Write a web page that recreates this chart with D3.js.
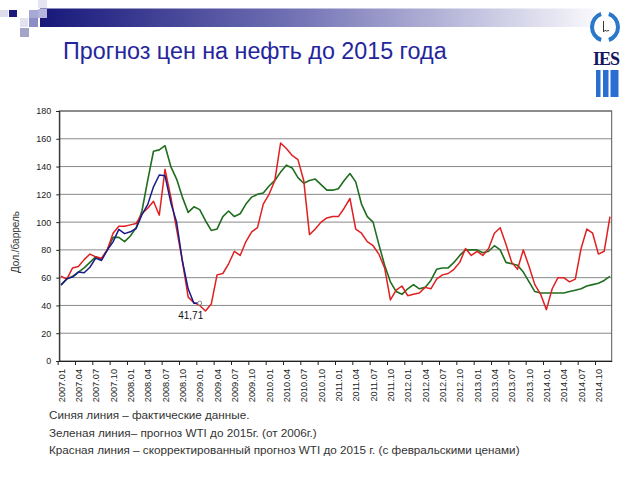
<!DOCTYPE html>
<html><head><meta charset="utf-8">
<script src="https://cdn.jsdelivr.net/npm/d3@7"></script>
<style>
html,body{margin:0;padding:0;background:#fff;}
svg{display:block;font-family:"Liberation Sans",Arial,sans-serif;}
</style>
</head><body>
<svg id="c" width="640" height="480"></svg>
<script>
// ---------------- data ----------------
const years = [2007, 2008, 2009, 2010, 2011, 2012, 2013, 2014];
const monthCodes = ["01","02","03","04","05","06","07","08","09","10","11","12"];
const categories = [];
years.forEach(y => monthCodes.forEach(m => categories.push(y + "." + m)));

const tickLabels = [
  "2007.01","2007.04","2007.07","2007.10","2008.01","2008.04","2008.07","2008.10",
  "2009.01","2009.04","2009.07","2009.10","2010.01","2010.04","2010.07","2010.10",
  "2011.01","2011.04","2011.07","2011.10","2012.01","2012.04","2012.07","2012.10",
  "2013.01","2013.04","2013.07","2013.10","2014.01","2014.04","2014.07","2014.10"
];
const yTicks = [0, 20, 40, 60, 80, 100, 120, 140, 160, 180];

// Blue: actual data (2007.01 - 2009.01)
const actual = [54.5, 59.3, 60.4, 64.0, 63.5, 67.5, 74.1, 72.4, 79.9, 85.8, 94.8, 91.7,
  93.0, 95.4, 105.4, 112.6, 125.4, 133.9, 133.4, 114, 100, 72, 52, 41.5, 41.71];

// Green: WTI forecast to 2015 (from 2006)
const forecast2006 = [55, 59, 61, 64, 67, 71, 75, 73, 80, 89, 89, 86,
  90, 96, 108, 130, 151, 152, 155, 140, 131, 118, 107, 111,
  109, 101, 94, 95, 104, 108, 104, 106, 113, 118, 120, 121,
  126, 130, 136, 141, 139, 132, 128, 130, 131, 127, 123, 123,
  124, 130, 135, 129, 113, 104, 100, 84, 69, 57, 50, 48,
  52, 55, 52, 53, 58, 66, 67, 67, 71, 76, 80, 80,
  80, 78, 79, 83, 80, 71, 70, 69, 64, 57, 50, 49,
  49, 49, 49, 49, 50, 51, 52, 54, 55, 56, 58, 61];

// Red: corrected forecast (with February prices)
const forecastCorrected = [61, 59, 67, 68, 73, 77, 75, 74, 80, 92, 97, 97,
  98, 99, 106, 110, 115, 105, 138, 118, 95, 72, 46, 42,
  40, 36, 41, 62, 63, 70, 79, 76, 86, 93, 96, 113,
  120, 130, 157, 153, 148, 145, 130, 91, 95, 100, 103, 104,
  104, 110, 117, 95, 92, 86, 83, 77, 67, 44, 51, 54,
  47, 48, 49, 53, 52, 59, 62, 63, 66, 71, 81, 76,
  79, 76, 81, 92, 96, 84, 71, 66, 80, 68, 55, 48,
  37, 52, 60, 60, 57, 59, 81, 95, 92, 77, 79, 104];

const lastActualLabel = "41,71";
const titleText = "Прогноз цен на нефть до 2015 года";
const yTitle = "Дол./баррель";
const notes = [
  "Синяя линия – фактические данные.",
  "Зеленая линия– прогноз WTI до 2015г. (от 2006г.)",
  "Красная линия – скорректированный прогноз WTI до 2015 г. (с февральскими ценами)"
];

// ---------------- layout ----------------
const svg = d3.select("#c");
const L = 59.3, R = 611.7, T = 111, B = 361;

// header decoration
const defs = svg.append("defs");
const grad = defs.append("linearGradient").attr("id", "hg").attr("x1", 0).attr("x2", 1).attr("y1", 0).attr("y2", 0);
grad.append("stop").attr("offset", 0).attr("stop-color", "#17177a");
grad.append("stop").attr("offset", 0.45).attr("stop-color", "#7070b4");
grad.append("stop").attr("offset", 1).attr("stop-color", "#f8f8fc");
svg.append("rect").attr("x", 40).attr("y", 8.5).attr("width", 555).attr("height", 18.5).attr("fill", "url(#hg)");

const sq = [
  [0, 10, 8, 7, "#dcdcec"], [9, 10, 8, 7, "#1a1a7e"], [20, 18, 8, 9, "#e2e2f0"],
  [29, 10, 9, 8, "#a8a8d4"], [29, 18, 9, 9, "#8c8cc8"], [38, 0, 9, 8, "#e4e4f2"],
  [38, 9, 9, 9, "#b4b4dc"], [20, 28, 9, 9, "#a4a4c8"]
];
svg.append("g").selectAll("rect").data(sq).join("rect")
  .attr("x", d => d[0]).attr("y", d => d[1]).attr("width", d => d[2]).attr("height", d => d[3])
  .attr("fill", d => d[4]);

// title
svg.append("text").attr("x", 63).attr("y", 58.5).attr("font-size", 23.3)
  .attr("fill", "#25259c").text(titleText);

// logo
const logo = svg.append("g");
const arc = d3.arc().innerRadius(11).outerRadius(15);
logo.append("path").attr("transform", "translate(605,27) scale(1,1.05)")
  .attr("d", arc({startAngle: 0.3, endAngle: Math.PI - 0.3})).attr("fill", "#2a78cc");
logo.append("path").attr("transform", "translate(605,27) scale(1,1.05)")
  .attr("d", arc({startAngle: Math.PI + 0.3, endAngle: 2 * Math.PI - 0.3})).attr("fill", "#2a78cc");
logo.append("path").attr("d", "M603.5,21 L603.5,32 Q605,29 606.5,31 L609,30.5")
  .attr("fill", "none").attr("stroke", "#222").attr("stroke-width", 0.9);
logo.append("text").attr("x", 606).attr("y", 64.5).attr("text-anchor", "middle")
  .attr("font-family", "'Liberation Serif','DejaVu Serif',serif").attr("font-weight", "bold")
  .attr("font-size", 18).attr("letter-spacing", -1).attr("fill", "#16165a").text("IES");
[[596, 4.5], [603, 5.5], [610.5, 8]].forEach(b => {
  logo.append("rect").attr("x", b[0]).attr("y", 70).attr("width", b[1]).attr("height", 27).attr("fill", "#2a6ed4");
});

// scales
const x = d3.scalePoint().domain(d3.range(categories.length)).range([L, R]).padding(0.3);
const y = d3.scaleLinear().domain([0, 180]).range([B, T]);
const step = x.step();

// gridlines
svg.append("g").selectAll("line").data(yTicks.filter(v => v > 0)).join("line")
  .attr("x1", L).attr("x2", R).attr("y1", d => y(d)).attr("y2", d => y(d))
  .attr("stroke", "#8a8a8a").attr("stroke-width", 1);

// border
svg.append("rect").attr("x", L).attr("y", T).attr("width", R - L).attr("height", B - T)
  .attr("fill", "none").attr("stroke", "#555").attr("stroke-width", 1);

// y axis
const yAxis = svg.append("g").attr("transform", `translate(${L},0)`)
  .call(d3.axisLeft(y).tickValues(yTicks).tickSize(3).tickPadding(5));
yAxis.select(".domain").attr("stroke", "#222");
yAxis.selectAll(".tick line").attr("stroke", "#222");
yAxis.selectAll("text").attr("font-size", 9).attr("fill", "#222")
  .attr("font-family", "'Liberation Sans',Arial,sans-serif");

// x axis
const tickIdx = tickLabels.map(t => categories.indexOf(t));
const xAxis = svg.append("g").attr("transform", `translate(0,${B})`)
  .call(d3.axisBottom(x).tickValues(tickIdx).tickSize(0).tickFormat(i => categories[i]));
xAxis.select(".domain").attr("stroke", "#222");
xAxis.selectAll("text").attr("font-size", 9.2).attr("fill", "#222")
  .attr("font-family", "'Liberation Sans',Arial,sans-serif")
  .attr("transform", "rotate(-90)").attr("text-anchor", "end")
  .attr("x", -8).attr("y", 0).attr("dy", "0.35em");
svg.append("g").selectAll("line").data(tickIdx).join("line")
  .attr("x1", d => x(d) - step / 2).attr("x2", d => x(d) - step / 2)
  .attr("y1", B).attr("y2", B + 4).attr("stroke", "#222");

// y title
svg.append("text").attr("transform", "translate(19,242) rotate(-90)")
  .attr("text-anchor", "middle").attr("font-size", 10).attr("fill", "#333").text(yTitle);

// lines
const line = d3.line().x((d, i) => x(i)).y(d => y(d));
svg.append("path").datum(forecast2006).attr("d", line).attr("fill", "none")
  .attr("stroke", "#1f6e1f").attr("stroke-width", 1.6).attr("stroke-linejoin", "round");
svg.append("path").datum(forecastCorrected).attr("d", line).attr("fill", "none")
  .attr("stroke", "#e02020").attr("stroke-width", 1.5).attr("stroke-linejoin", "round");
svg.append("path").datum(actual).attr("d", line).attr("fill", "none")
  .attr("stroke", "#1a1a8a").attr("stroke-width", 1.5).attr("stroke-linejoin", "round");

// last actual marker + label
const li = actual.length - 1;
svg.append("circle").attr("cx", x(li)).attr("cy", y(actual[li])).attr("r", 2)
  .attr("fill", "#fff").attr("stroke", "#888").attr("stroke-width", 1);
svg.append("text").attr("x", x(li) - 9).attr("y", y(actual[li]) + 16).attr("text-anchor", "middle")
  .attr("font-size", 10).attr("fill", "#111").text(lastActualLabel);

// notes
svg.append("g").selectAll("text").data(notes).join("text")
  .attr("x", 49).attr("y", (d, i) => 419 + i * 17.5)
  .attr("font-size", 11.7).attr("fill", "#333").text(d => d);
</script>
</body></html>
